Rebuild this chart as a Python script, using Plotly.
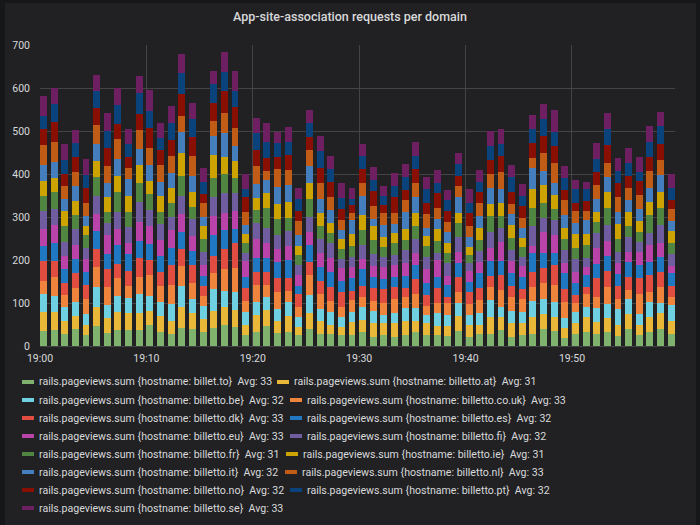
import plotly.graph_objects as go
import pandas as pd

minutes = list(range(60))
times = [pd.Timestamp("2024-01-01 19:00:00") + pd.Timedelta(minutes=m) for m in minutes]

hosts = ["billet.to", "billetto.at", "billetto.be", "billetto.co.uk", "billetto.dk",
         "billetto.es", "billetto.eu", "billetto.fi", "billetto.fr", "billetto.ie",
         "billetto.it", "billetto.nl", "billetto.no", "billetto.pt", "billetto.se"]
avgs = [33, 31, 32, 33, 33, 32, 33, 32, 31, 31, 32, 33, 32, 32, 33]
colors = ["#7EB26D", "#EAB839", "#6ED0E0", "#EF843C", "#E24D42", "#1F78C1", "#BA43A9",
          "#705DA0", "#508642", "#CCA300", "#447EBC", "#C15C17", "#890F02", "#0A437C", "#6D1F62"]

billet_to = [35,37,29,39,26,47,31,37,37,37,49,32,28,43,40,33,41,49,45,26,33,47,31,33,26,39,28,28,26,26,33,22,26,22,26,33,26,25,23,35,22,28,29,37,20,26,29,39,35,19,28,33,29,33,23,39,26,33,40,29]
billetto_at = [45,41,28,31,23,44,33,43,39,39,32,38,31,47,36,29,40,42,39,23,38,37,26,37,19,37,29,22,19,29,27,31,27,31,32,24,27,22,24,35,27,21,38,30,33,27,38,35,32,22,25,35,26,33,27,35,23,34,36,29]
billetto_be = [42,39,33,33,25,47,31,36,36,46,36,33,39,50,33,32,51,38,42,29,32,31,30,33,22,43,29,28,22,24,30,28,18,23,30,31,18,29,24,29,22,27,40,24,28,27,38,36,36,23,27,23,33,32,35,35,25,35,25,37]
billetto_co_uk = [30,44,29,31,35,46,43,41,28,39,48,37,44,46,38,23,37,49,56,27,39,27,39,25,24,46,36,27,24,28,25,24,28,33,27,32,22,25,28,27,27,31,31,39,34,29,33,36,39,39,19,31,27,40,24,21,48,24,37,20]
billetto_dk = [46,37,27,35,33,41,40,34,35,43,35,33,46,39,41,23,41,47,57,31,31,31,31,31,29,30,30,33,35,22,25,31,33,29,19,35,26,33,16,34,28,29,25,34,25,23,33,36,46,29,20,16,42,36,31,30,35,39,33,25]
billetto_es = [34,41,32,33,29,42,37,44,39,40,37,36,39,39,34,23,48,45,33,24,32,31,39,41,20,40,31,33,26,28,39,25,23,22,29,33,27,27,27,32,22,33,35,34,29,28,45,34,28,37,28,27,34,36,27,35,31,30,37,29]
billetto_eu = [40,42,31,33,31,40,43,36,25,44,42,38,43,42,34,25,45,40,43,38,45,36,29,33,25,29,34,33,30,26,23,25,28,28,29,29,32,39,21,27,27,27,31,45,29,26,17,50,41,23,24,18,36,34,25,24,31,40,32,17]
billetto_fi = [42,37,33,37,27,43,27,41,37,46,37,36,29,44,39,30,44,45,40,19,37,34,33,34,23,35,33,35,20,25,33,28,25,23,31,31,28,17,29,35,19,26,37,32,25,22,45,31,36,31,31,22,35,37,27,35,24,27,41,28]
billetto_fr = [34,39,38,33,29,42,27,45,36,44,37,29,34,46,29,30,44,44,36,22,29,47,37,31,24,42,28,23,23,25,35,33,23,28,24,30,27,28,25,31,18,25,37,27,29,22,44,36,26,25,25,31,26,41,31,25,23,43,39,25]
billetto_ie = [35,34,34,32,20,38,34,39,37,43,30,38,34,52,33,30,53,41,40,21,29,34,35,38,21,39,31,23,25,27,34,31,23,23,25,31,23,26,23,25,19,28,27,30,29,22,44,41,32,27,33,24,23,37,33,32,25,31,37,28]
billetto_it = [37,36,27,35,24,40,34,40,39,37,38,31,35,50,39,23,45,55,34,21,32,30,39,38,24,39,32,31,20,33,45,18,27,22,40,38,19,24,26,36,22,28,38,33,25,22,47,34,27,29,27,33,30,33,28,29,28,32,41,24]
billetto_nl = [48,47,30,33,30,44,39,45,27,44,39,40,40,37,46,31,35,48,43,31,42,23,42,35,34,37,37,31,23,16,31,30,28,26,28,33,32,25,23,26,26,30,32,40,24,24,25,42,47,36,28,22,33,33,36,28,32,40,35,28]
billetto_no = [36,47,29,34,35,40,41,35,25,38,48,35,37,51,45,21,40,50,47,34,37,29,28,35,24,29,37,35,25,19,31,34,19,37,23,31,26,35,25,23,31,26,33,37,27,28,33,38,40,23,18,22,31,42,31,28,33,32,37,21]
billetto_pt = [32,42,32,32,31,40,40,44,30,48,39,27,39,48,40,29,45,45,39,18,40,38,32,31,28,33,39,29,27,15,32,26,22,24,31,31,31,25,26,28,23,23,33,28,37,24,34,39,33,28,33,27,29,38,30,30,21,35,42,27]
billetto_se = [45,38,37,31,38,36,43,41,35,41,48,35,41,45,38,31,31,46,46,36,34,43,27,34,24,32,34,32,33,24,26,31,21,32,29,32,28,29,23,27,31,27,34,34,27,27,32,36,51,28,20,18,37,38,30,34,34,37,33,32]

series = [billet_to, billetto_at, billetto_be, billetto_co_uk, billetto_dk, billetto_es,
          billetto_eu, billetto_fi, billetto_fr, billetto_ie, billetto_it, billetto_nl,
          billetto_no, billetto_pt, billetto_se]

# geometry (pixels)
W, H = 700, 525
L, R, T, B = 40, 25, 45, 179
PW, PH = W - L - R, H - T - B

def px_x(p):
    return (p - L) / PW

def px_y(p):
    return (H - B - p) / PH

fig = go.Figure()
bar_w = 39000  # ms
for host, vals, col in zip(hosts, series, colors):
    fig.add_trace(go.Bar(x=times, y=vals, name="rails.pageviews.sum {hostname: " + host + "}",
                         marker=dict(color=col, line=dict(width=0)),
                         width=bar_w, offset=0, showlegend=False))

txt = "#d8d9da"
grid = "#444446"

# Grafana-style inline legend (two entries per row)
row_centers = [382, 400, 418, 436, 454, 472, 490, 508]
col2_text_x = [293, 306, 306, 306, 302, 301, 306]
annotations = []
shapes = [dict(type="rect", xref="paper", yref="paper", layer="below",
               x0=px_x(5), x1=px_x(696), y0=px_y(H), y1=px_y(3),
               fillcolor="#212124", line=dict(width=0))]
for i, (host, avg, col) in enumerate(zip(hosts, avgs, colors)):
    row = i // 2
    tx = 38 if i % 2 == 0 else col2_text_x[row]
    yc = row_centers[row]
    annotations.append(dict(
        xref="paper", yref="paper", x=px_x(tx), y=px_y(yc), xanchor="left", yanchor="middle",
        showarrow=False, borderpad=0,
        text="rails.pageviews.sum {hostname: " + host + "}\u00a0\u00a0Avg: " + str(avg),
        font=dict(size=10.6, color=txt, family="Roboto, sans-serif")))
    shapes.append(dict(type="line", xref="paper", yref="paper",
                       x0=px_x(tx - 16), x1=px_x(tx - 4), y0=px_y(yc), y1=px_y(yc),
                       line=dict(color=col, width=4)))

fig.update_layout(
    width=W, height=H,
    barmode="stack",
    paper_bgcolor="#161719",
    plot_bgcolor="#212124",
    margin=dict(l=L, r=R, t=T, b=B),
    font=dict(family="Roboto, sans-serif", size=10.5, color=txt),
    showlegend=False,
    title=dict(text="App-site-association requests per domain", x=0.5, xanchor="center",
               y=1 - 17 / H, yanchor="middle", yref="container",
               font=dict(size=12.5, color=txt, family="Roboto, sans-serif", weight=500)),
    xaxis=dict(type="date",
               range=[pd.Timestamp("2024-01-01 19:00:00"), pd.Timestamp("2024-01-01 19:59:41")],
               dtick=600000, tick0=pd.Timestamp("2024-01-01 19:00:00"), tickformat="%H:%M",
               showgrid=True, gridcolor=grid, gridwidth=1, zeroline=False,
               showline=False, ticks="", ticklabelstandoff=4, tickfont=dict(size=10.5, color=txt)),
    yaxis=dict(range=[0, 700], dtick=100, showgrid=True, gridcolor=grid, gridwidth=1,
               zeroline=True, zerolinecolor=grid, zerolinewidth=1,
               showline=False, ticks="", ticklabelstandoff=9, tickfont=dict(size=10.5, color=txt)),
    shapes=shapes,
    annotations=annotations,
    bargap=0,
)
fig.write_html("out.html")
